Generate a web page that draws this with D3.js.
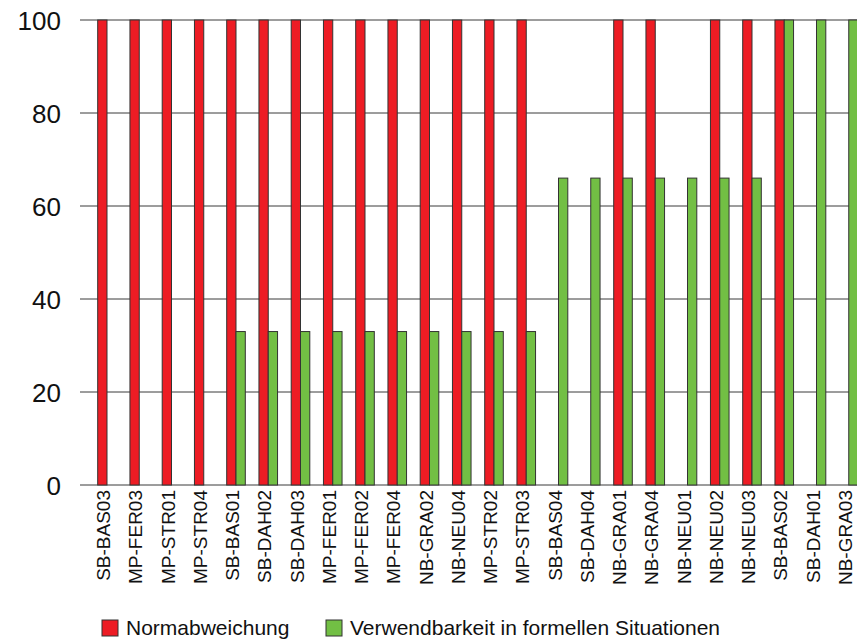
<!DOCTYPE html>
<html>
<head>
<meta charset="utf-8">
<script src="https://cdn.jsdelivr.net/npm/d3@7"></script>
<style>
    body { margin: 0; background: #fff; }
    svg { display: block; font-family: "Liberation Sans", Arial, sans-serif; }
</style>
</head>
<body>
<svg id="chart"></svg>
<script>

// categories (x axis)
var categories = ['SB-BAS03', 'MP-FER03', 'MP-STR01', 'MP-STR04', 'SB-BAS01', 'SB-DAH02',
    'SB-DAH03', 'MP-FER01', 'MP-FER02', 'MP-FER04', 'NB-GRA02', 'NB-NEU04', 'MP-STR02',
    'MP-STR03', 'SB-BAS04', 'SB-DAH04', 'NB-GRA01', 'NB-GRA04', 'NB-NEU01', 'NB-NEU02',
    'NB-NEU03', 'SB-BAS02', 'SB-DAH01', 'NB-GRA03'];

// series
var normabweichung = [100, 100, 100, 100, 100, 100, 100, 100, 100, 100, 100, 100, 100, 100,
    0, 0, 100, 100, 0, 100, 100, 100, 0, 0];
var verwendbarkeit = [0, 0, 0, 0, 33, 33, 33, 33, 33, 33, 33, 33, 33, 33,
    66, 66, 66, 66, 66, 66, 66, 100, 100, 100];

var seriesNames = ['Normabweichung', 'Verwendbarkeit in formellen Situationen'];
var yTicks = [0, 20, 40, 60, 80, 100];

var colors = ['#ed1c24', '#72bf44'];

var width = 857;
var height = 640;

var plotLeft = 80;
var plotTop = 20;
var plotBottom = 485;

var svg = d3.select('#chart')
    .attr('width', width)
    .attr('height', height);

// set the ranges
var y = d3.scaleLinear().domain([0, 100]).range([plotBottom, plotTop]);

var step = 32.25;
var x = d3.scaleBand()
    .domain(categories)
    .range([107 - step / 2, 107 - step / 2 + step * categories.length])
    .paddingInner(0.4233)
    .paddingOuter(0.2116);

var xSub = d3.scaleBand()
    .domain([0, 1])
    .range([0, x.bandwidth()]);

// gridlines
svg.append('g')
    .attr('class', 'grid')
    .selectAll('line')
    .data(yTicks)
    .enter().append('line')
    .attr('x1', plotLeft)
    .attr('x2', width)
    .attr('y1', function (d) { return y(d); })
    .attr('y2', function (d) { return y(d); })
    .attr('stroke', '#3a3a3a')
    .attr('stroke-width', 1);

// y labels
var yAxis = d3.axisLeft(y).tickValues(yTicks).tickSize(0).tickPadding(0);
var yAxisG = svg.append('g')
    .attr('transform', 'translate(61,0)')
    .call(yAxis);
yAxisG.select('.domain').remove();
yAxisG.selectAll('text')
    .attr('font-size', '26px')
    .attr('font-family', '"Liberation Sans", Arial, sans-serif')
    .attr('fill', '#111')
    .attr('dy', '0.38em');

// bars
var rows = categories.map(function (c, i) {
    return { cat: c, values: [normabweichung[i], verwendbarkeit[i]] };
});

var groups = svg.append('g')
    .attr('class', 'bars')
    .selectAll('g')
    .data(rows)
    .enter().append('g')
    .attr('transform', function (d) { return 'translate(' + x(d.cat) + ',0)'; });

groups.selectAll('rect')
    .data(function (d) {
        return d.values.map(function (v, k) { return { k: k, v: v }; })
            .filter(function (e) { return e.v > 0; });
    })
    .enter().append('rect')
    .attr('x', function (d) { return xSub(d.k); })
    .attr('width', xSub.bandwidth())
    .attr('y', function (d) { return y(d.v); })
    .attr('height', function (d) { return y(0) - y(d.v); })
    .attr('fill', function (d) { return colors[d.k]; })
    .attr('stroke', '#333')
    .attr('stroke-width', 1);

// x labels
var xAxis = d3.axisBottom(x).tickSize(0).tickPadding(0);
var xAxisG = svg.append('g')
    .attr('transform', 'translate(0,' + plotBottom + ')')
    .call(xAxis);
xAxisG.select('.domain').remove();
xAxisG.selectAll('text')
    .attr('font-size', '19px')
    .attr('font-family', '"Liberation Sans", Arial, sans-serif')
    .attr('fill', '#111')
    .attr('text-anchor', 'end')
    .attr('transform', 'rotate(-90)')
    .attr('x', -5)
    .attr('y', 0)
    .attr('dy', '0.17em');

// legend
var legendX = [102, 326];
var legend = svg.append('g')
    .attr('class', 'legend')
    .selectAll('g')
    .data(seriesNames)
    .enter().append('g')
    .attr('transform', function (d, i) { return 'translate(' + legendX[i] + ',620)'; });

legend.append('rect')
    .attr('width', 16)
    .attr('height', 16)
    .attr('fill', function (d, i) { return colors[i]; })
    .attr('stroke', '#333')
    .attr('stroke-width', 1);

legend.append('text')
    .attr('x', 24)
    .attr('y', 15)
    .attr('font-size', '21px')
    .attr('fill', '#111')
    .text(function (d) { return d; });

</script>
</body>
</html>
